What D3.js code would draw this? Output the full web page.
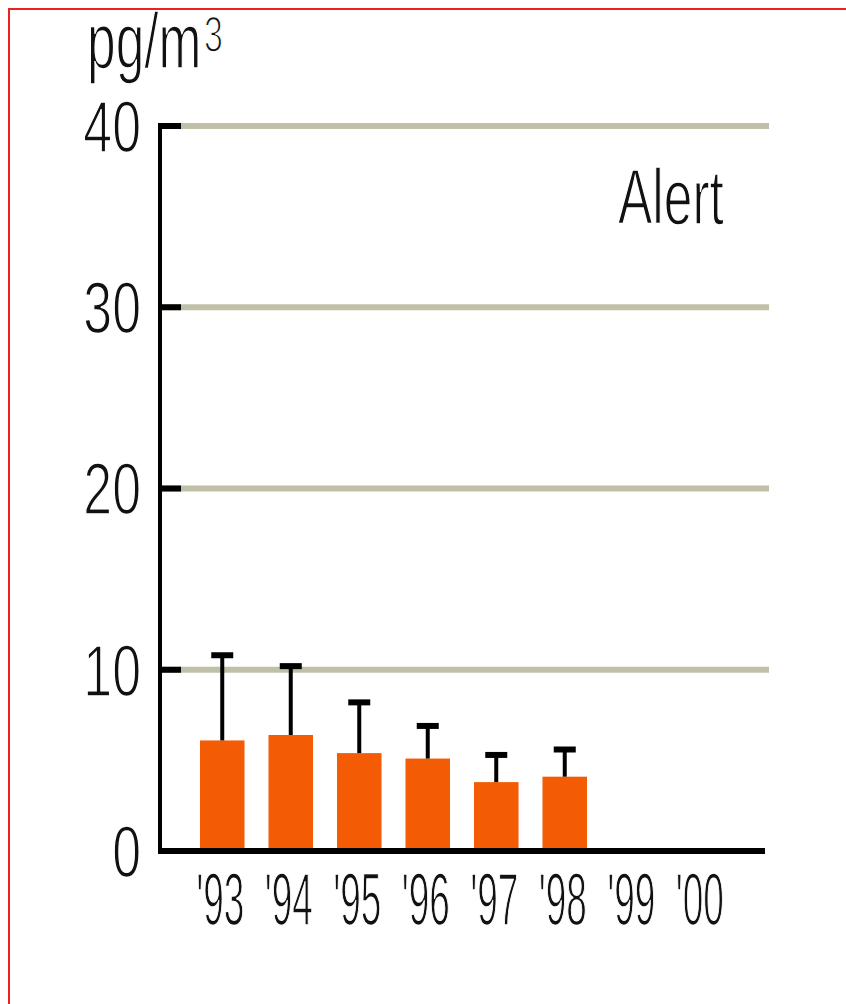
<!DOCTYPE html>
<html>
<head>
<meta charset="utf-8">
<script src="https://cdn.jsdelivr.net/npm/d3@7"></script>
<style>
  html, body { margin: 0; padding: 0; background: #fff; }
  svg { display: block; }
  /* thin the glyphs a little: a white outline painted over the fill */
  text.lbl { stroke: #fff; stroke-width: 1.6px; paint-order: fill stroke; }
</style>
</head>
<body>
<div id="container"></div>
<script>
// --- Data ---
const years = ["'93", "'94", "'95", "'96", "'97", "'98", "'99", "'00"];
const means = [6.1, 6.4, 5.4, 5.1, 3.8, 4.1, null, null];
const upper = [10.8, 10.2, 8.2, 6.9, 5.3, 5.6, null, null];
const yTicks = [0, 10, 20, 30, 40];
const unitLabel = "pg/m";
const unitSup = "3";
const alertLabel = "Alert";

const width = 846, height = 1004;
const font = "'Liberation Sans', Arial, Helvetica, sans-serif";
const orange = "#f35b04";
const gridCol = "#c0c0a8";

const svg = d3.select("#container").append("svg")
  .attr("width", width).attr("height", height);

// --- Frame (only top and left edges fall inside the picture) ---
svg.append("rect")
  .attr("x", 9).attr("y", 9)
  .attr("width", width + 20).attr("height", height + 20)
  .attr("fill", "none").attr("stroke", "#f02020").attr("stroke-width", 2);

// --- Scales ---
const x = d3.scaleBand().domain(years).range([188, 736]).paddingInner(0.35).paddingOuter(0.175);
const y = d3.scaleLinear().domain([0, 40]).range([851, 126]);

// --- Gridlines ---
svg.append("g").selectAll("line").data(yTicks.filter(d => d > 0)).join("line")
  .attr("x1", 160).attr("x2", 769)
  .attr("y1", d => y(d)).attr("y2", d => y(d))
  .attr("stroke", gridCol).attr("stroke-width", 6);

// --- Black tick stubs ---
svg.append("g").selectAll("line").data(yTicks).join("line")
  .attr("x1", 160).attr("x2", 181)
  .attr("y1", d => y(d)).attr("y2", d => y(d))
  .attr("stroke", "#000").attr("stroke-width", 6);

// --- Bars ---
const rows = years.map((yr, i) => ({ yr, m: means[i], u: upper[i] })).filter(d => d.m != null);

svg.append("g").selectAll("rect").data(rows).join("rect")
  .attr("x", d => x(d.yr))
  .attr("y", d => y(d.m))
  .attr("width", x.bandwidth())
  .attr("height", d => y(0) - y(d.m))
  .attr("fill", orange);

// --- Error bars (upper only) ---
const eg = svg.append("g");
eg.selectAll("line.stem").data(rows).join("line")
  .attr("class", "stem")
  .attr("x1", d => x(d.yr) + x.bandwidth() / 2).attr("x2", d => x(d.yr) + x.bandwidth() / 2)
  .attr("y1", d => y(d.m)).attr("y2", d => y(d.u))
  .attr("stroke", "#000").attr("stroke-width", 4);
eg.selectAll("line.cap").data(rows).join("line")
  .attr("class", "cap")
  .attr("x1", d => x(d.yr) + x.bandwidth() / 2 - 11).attr("x2", d => x(d.yr) + x.bandwidth() / 2 + 11)
  .attr("y1", d => y(d.u)).attr("y2", d => y(d.u))
  .attr("stroke", "#000").attr("stroke-width", 6);

// --- Axis lines ---
svg.append("line")
  .attr("x1", 160).attr("x2", 160).attr("y1", 123).attr("y2", 854)
  .attr("stroke", "#000").attr("stroke-width", 4);
svg.append("line")
  .attr("x1", 158).attr("x2", 765).attr("y1", y(0)).attr("y2", y(0))
  .attr("stroke", "#000").attr("stroke-width", 6);

// --- Y tick labels (condensed) ---
svg.append("g").selectAll("text").data(yTicks).join("text")
  .attr("class", "lbl")
  .attr("transform", d => `translate(141,${y(d)}) scale(0.72,1)`)
  .attr("dy", "0.36em")
  .attr("text-anchor", "end")
  .attr("font-family", font).attr("font-size", 72).attr("fill", "#111")
  .text(d => d);

// --- X tick labels ---
svg.append("g").selectAll("text").data(years).join("text")
  .attr("class", "lbl")
  .attr("transform", d => `translate(${x(d) + x.bandwidth() / 2 - 2},925) scale(0.5,1)`)
  .attr("text-anchor", "middle")
  .attr("font-family", font).attr("font-size", 74).attr("fill", "#111")
  .text(d => d);

// --- Unit label ---
svg.append("text")
  .attr("class", "lbl")
  .attr("transform", "translate(87,68) scale(0.66,1)")
  .attr("font-family", font).attr("font-size", 78).attr("fill", "#111")
  .text(unitLabel);
svg.append("text")
  .attr("class", "lbl")
  .attr("transform", "translate(204,52) scale(0.68,1)")
  .attr("font-family", font).attr("font-size", 50).attr("fill", "#111")
  .text(unitSup);

// --- Alert label ---
svg.append("text")
  .attr("class", "lbl")
  .attr("transform", "translate(618,224) scale(0.66,1)")
  .attr("font-family", font).attr("font-size", 78).attr("fill", "#111")
  .text(alertLabel);
</script>
</body>
</html>
